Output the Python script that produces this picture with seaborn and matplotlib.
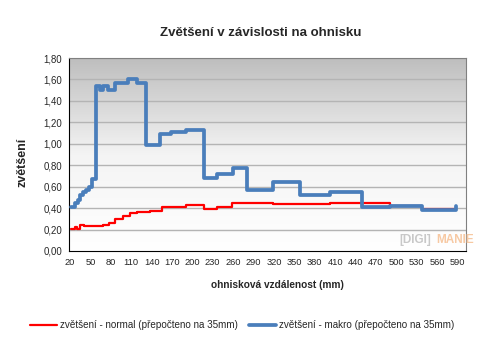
import numpy as np
import pandas as pd
import matplotlib
matplotlib.use("Agg")
import matplotlib.pyplot as plt
import seaborn as sns

# ---- data ----
normal_x = [21, 27, 30, 35, 40, 69, 77, 86, 98, 108, 119, 138, 155, 190, 217, 236, 259, 318, 402, 490, 538, 586]
normal_y = [0.205, 0.225, 0.205, 0.24, 0.235, 0.245, 0.265, 0.295, 0.325, 0.355, 0.365, 0.375, 0.41, 0.43, 0.39, 0.41, 0.45, 0.44, 0.45, 0.42, 0.39, 0.39]

macro_x = [21, 27, 32, 35, 39, 43, 48, 52, 58, 64, 69, 76, 86, 106, 118, 132, 153, 169, 191, 217, 236, 260, 280, 318, 359, 402, 449, 490, 538, 588]
macro_y = [0.41, 0.445, 0.475, 0.52, 0.55, 0.57, 0.60, 0.67, 1.54, 1.50, 1.54, 1.50, 1.57, 1.60, 1.57, 0.99, 1.09, 1.11, 1.13, 0.68, 0.72, 0.77, 0.57, 0.64, 0.52, 0.55, 0.41, 0.42, 0.38, 0.42]

x_ticks = list(range(20, 591, 30))
y_ticks = [0.0, 0.2, 0.4, 0.6, 0.8, 1.0, 1.2, 1.4, 1.6, 1.8]
y_ticklabels = ["0,00", "0,20", "0,40", "0,60", "0,80", "1,00", "1,20", "1,40", "1,60", "1,80"]

title = "Zvětšení v závislosti na ohnisku"
xlabel = "ohnisková vzdálenost (mm)"
ylabel = "zvětšení"
label_normal = "zvětšení - normal (přepočteno na 35mm)"
label_macro = "zvětšení - makro (přepočteno na 35mm)"

sns.set_style("white")
plt.rcParams['font.family'] = ['Liberation Sans', 'DejaVu Sans']

fig = plt.figure(figsize=(4.88, 3.49), dpi=100)
ax = fig.add_axes([69/488, 1-251/349, (466-69)/488, (251-58)/349])

# gradient background
grad = np.linspace(0, 1, 256).reshape(-1, 1)
cmap = matplotlib.colors.LinearSegmentedColormap.from_list("g", ["#ffffff", "#f4f4f4", "#bebebe"])
ax.imshow(grad, extent=[0, 1, 0, 1], transform=ax.transAxes, aspect='auto',
          cmap=cmap, origin='lower', zorder=0)

for yv in y_ticks[1:]:
    ax.axhline(yv, color="#b4b4b4", lw=1.0, zorder=1)

df_n = pd.DataFrame({"x": normal_x, "y": normal_y})
df_m = pd.DataFrame({"x": macro_x, "y": macro_y})
sns.lineplot(data=df_m, x="x", y="y", ax=ax, color="#4a7ebb", lw=2.7,
             drawstyle="steps-post", label=label_macro, zorder=3)
sns.lineplot(data=df_n, x="x", y="y", ax=ax, color="#ff0000", lw=1.6,
             drawstyle="steps-post", label=label_normal, zorder=2)

ax.set_xlim(18.5, 602.5)
ax.set_ylim(0, 1.8)
ax.set_xticks(x_ticks)
ax.set_xticklabels([str(v) for v in x_ticks], fontsize=6.7)
ax.set_yticks(y_ticks)
ax.set_yticklabels(y_ticklabels, fontsize=6.9)
ax.tick_params(axis='both', direction='out', length=3, width=0.8, color='black', pad=2)
ax.set_xlabel("")
ax.set_ylabel("")

for s in ['left', 'bottom']:
    ax.spines[s].set_color('black')
    ax.spines[s].set_linewidth(0.8)
for s in ['top', 'right']:
    ax.spines[s].set_color('#808080')
    ax.spines[s].set_linewidth(0.8)

fig.text(0.535, 1-33/349, title, ha='center', va='center', fontsize=9.5, fontweight='bold')
fig.text(277.5/488, 1-285/349, xlabel, ha='center', va='center', fontsize=7.3, fontweight='bold')
fig.text(22/488, 1-162/349, ylabel, ha='center', va='center', rotation=90, fontsize=9, fontweight='bold')

# watermark
fig.text(399/488, 1-240/349, "[DIGI]", ha='left', va='center', fontsize=8.5, fontweight='bold', color="#c8c8c8")
fig.text(436/488, 1-240/349, "MANIE", ha='left', va='center', fontsize=8.5, fontweight='bold', color="#f7c9a3")

h, l = ax.get_legend_handles_labels()
ax.get_legend().remove()
order = [l.index(label_normal), l.index(label_macro)]
fig.legend([h[i] for i in order], [l[i] for i in order], loc='center', bbox_to_anchor=(0.496, 1-325/349),
           ncol=2, frameon=False, fontsize=7.15, handlelength=2.7, handletextpad=0.35, columnspacing=1.1)

fig.savefig("out.png", dpi=100)
